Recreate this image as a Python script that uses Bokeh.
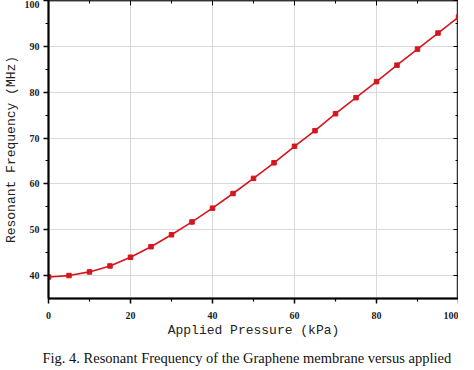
from bokeh.plotting import figure
from bokeh.models import LinearAxis, Range1d, FixedTicker, Title
from bokeh.embed import file_html
from bokeh.resources import INLINE

pressure = [0, 5, 10, 15, 20, 25, 30, 35, 40, 45, 50, 55, 60, 65, 70, 75, 80, 85, 90, 95, 100]
frequency = [39.7, 40.0, 40.8, 42.1, 44.0, 46.3, 48.9, 51.7, 54.7, 57.9, 61.2,
             64.6, 68.2, 71.6, 75.3, 78.8, 82.3, 85.9, 89.4, 92.9, 96.4]
x_ticks = [0, 20, 40, 60, 80, 100]
y_ticks = [40, 50, 60, 70, 80, 90, 100]
caption = "Fig. 4. Resonant Frequency of the Graphene membrane versus applied"

p = figure(frame_width=410, frame_height=298, output_backend="svg", toolbar_location=None,
           x_range=Range1d(0, 100), y_range=Range1d(35, 100),
           min_border_left=0, min_border_right=0, min_border_top=0, min_border_bottom=0)
p.outline_line_color = "#333333"
p.outline_line_width = 1.5
p.background_fill_color = "white"
p.border_fill_color = "white"

tick_font = "Liberation Serif"
label_font = "Liberation Mono"

for ax, ticks in ((p.xaxis[0], x_ticks), (p.yaxis[0], y_ticks)):
    ax.ticker = FixedTicker(ticks=ticks, minor_ticks=[t + (ticks[1]-ticks[0])/2 for t in ticks[:-1]])
    ax.axis_line_width = 2
    ax.axis_line_color = "black"
    ax.major_tick_line_width = 1.5
    ax.major_tick_out = 5
    ax.major_tick_in = 0
    ax.minor_tick_out = 3
    ax.minor_tick_in = 0
    ax.minor_tick_line_width = 1.2
    ax.major_label_text_font = tick_font
    ax.major_label_text_font_style = "bold"
    ax.major_label_text_font_size = "10px"
    ax.major_label_text_color = "#222222"
    ax.axis_label_text_font = label_font
    ax.axis_label_text_font_style = "normal"
    ax.axis_label_text_font_size = "13px"
    ax.axis_label_text_color = "#222222"

p.xaxis.axis_label = "Applied Pressure (kPa)"
p.yaxis.axis_label = "Resonant Frequency (MHz)"
p.xaxis.major_label_standoff = 8
p.xaxis.axis_label_standoff = 1
p.yaxis.major_label_standoff = 4
p.yaxis.axis_label_standoff = 3

top = LinearAxis(ticker=FixedTicker(ticks=x_ticks, minor_ticks=[10, 30, 50, 70, 90]),
                 major_label_overrides={t: "" for t in x_ticks})
right = LinearAxis(ticker=FixedTicker(ticks=y_ticks, minor_ticks=[45, 55, 65, 75, 85, 95]),
                   major_label_overrides={t: "" for t in y_ticks})
for ax in (top, right):
    ax.major_label_text_font_size = "1px"
    ax.major_label_standoff = 0
    ax.axis_line_width = 1.5
    ax.axis_line_color = "#333333"
    ax.major_tick_in = 5
    ax.major_tick_out = 0
    ax.minor_tick_in = 3
    ax.minor_tick_out = 0
p.add_layout(top, "above")
p.add_layout(right, "right")

p.xgrid.ticker = FixedTicker(ticks=x_ticks)
p.ygrid.ticker = FixedTicker(ticks=y_ticks)
p.xgrid.grid_line_color = "#d9d9d9"
p.ygrid.grid_line_color = "#d9d9d9"
p.xgrid.grid_line_width = 1
p.ygrid.grid_line_width = 1

p.line(pressure, frequency, line_color="#d4161e", line_width=1.6)
p.scatter(pressure, frequency, marker="square", size=4.5, fill_color="#d4161e", line_color="#d4161e")

p.add_layout(Title(text=caption, text_font="Liberation Serif", text_font_size="14.5px",
                   text_font_style="normal", text_color="#111111", align="left",
                   offset=-6, standoff=14), "below")

open("out.html", "w").write(file_html(p, INLINE))
